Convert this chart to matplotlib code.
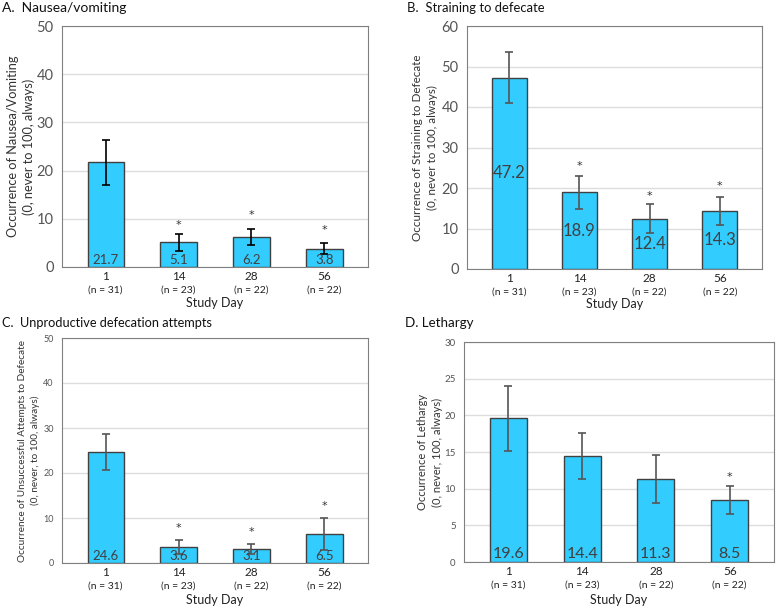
import matplotlib.pyplot as plt

plt.rcParams['font.family'] = ['Lato', 'DejaVu Sans']

days = ['1', '14', '28', '56']
n_labels = ['(n = 31)', '(n = 23)', '(n = 22)', '(n = 22)']

nausea = [21.7, 5.1, 6.2, 3.8]
nausea_hi = [26.4, 6.8, 7.9, 4.9]
nausea_lo = [17.0, 3.4, 4.6, 2.8]
nausea_star = [None, 8.8, 10.8, 7.7]

strain = [47.2, 18.9, 12.4, 14.3]
strain_hi = [53.5, 23.0, 16.0, 17.8]
strain_lo = [41.0, 14.8, 8.9, 10.8]
strain_star = [None, 25.5, 18.0, 20.4]

unprod = [24.6, 3.6, 3.1, 6.5]
unprod_hi = [28.7, 5.1, 4.2, 10.1]
unprod_lo = [20.6, 2.0, 1.9, 2.8]
unprod_star = [None, 7.8, 7.0, 12.7]

lethargy = [19.6, 14.4, 11.3, 8.5]
lethargy_hi = [24.0, 17.6, 14.6, 10.4]
lethargy_lo = [15.2, 11.3, 8.0, 6.6]
lethargy_star = [None, None, None, 11.6]

W, H = 777, 607
fig = plt.figure(figsize=(W / 100, H / 100), dpi=100)

BAR = '#33CCFF'
EDGE = '#404040'


def px_axes(left, top, right, bottom):
    return fig.add_axes([left / W, 1 - bottom / H, (right - left) / W, (bottom - top) / H])


def ftext(x, y, s, **kw):
    return fig.text(x / W, 1 - y / H, s, **kw)


def panel(ax, box, vals, hi, lo, stars, ymax, ystep, ylabel, ylab_fs, ylab_x,
          title, title_fs, title_x, title_y, err_color, label_mode, val_fs, tick_fs, xlab_y):
    left, top, right, bottom = box
    x = range(len(vals))
    ax.bar(x, vals, width=0.5, color=BAR, edgecolor=EDGE, linewidth=1.0, zorder=3)
    yerr = [[v - l for v, l in zip(vals, lo)], [h - v for v, h in zip(vals, hi)]]
    ax.errorbar(x, vals, yerr=yerr, fmt='none', ecolor=err_color, elinewidth=1.2,
                capsize=3, capthick=1.2, zorder=4)
    for i, v in enumerate(vals):
        if label_mode == 'mid':
            ypos = v / 2
            va = 'center'
        else:
            ypos = ymax * 0.006
            va = 'bottom'
        ax.text(i, ypos, f'{v:.1f}', ha='center', va=va, fontsize=val_fs, color='#404040', zorder=5)
        if stars[i] is not None:
            ax.text(i, stars[i], '*', ha='center', va='center', fontsize=8,
                    family='DejaVu Sans', color='#333333', zorder=5)
    ax.set_ylim(0, ymax)
    ax.set_xlim(-0.6, 3.6)
    ax.set_yticks(range(0, ymax + 1, ystep))
    ax.set_xticks(list(x))
    ax.set_xticklabels(days, fontsize=8.5, color='#222222')
    ax.tick_params(axis='y', labelsize=tick_fs, colors='#555555', length=0, pad=6)
    ax.tick_params(axis='x', length=0, pad=3)
    ax.grid(axis='y', color='#dddddd', linewidth=1, zorder=0)
    for s in ax.spines.values():
        s.set_color('#808080')
    # second line of tick labels: sample sizes
    for i, n in enumerate(n_labels):
        ax.annotate(n, (i, 0), xycoords=('data', 'axes fraction'), xytext=(0, -19),
                    textcoords='offset pixels', ha='center', va='top', fontsize=7.5, color='#222222')
    ftext(ylab_x, (top + bottom) / 2, ylabel, rotation=90, ha='center', va='center',
          fontsize=ylab_fs, color='#333333', multialignment='center', linespacing=1.35)
    ftext(title_x, title_y, title, fontsize=title_fs, color='#111111', va='center', ha='left')
    ftext((left + right) / 2, xlab_y, 'Study Day', ha='center', va='center',
          fontsize=9, color='#222222')


boxA = (62, 26, 368, 267)
axA = px_axes(*boxA)
panel(axA, boxA, nausea, nausea_hi, nausea_lo, nausea_star, 50, 10,
      'Occurrence of Nausea/Vomiting\n(0, never to 100, always)', 9.2, 21,
      'A.  Nausea/vomiting', 10, 2, 8, 'black', 'bottom', 9.5, 10.5, 303)

boxB = (467, 26, 762, 269)
axB = px_axes(*boxB)
panel(axB, boxB, strain, strain_hi, strain_lo, strain_star, 60, 10,
      'Occurrence of Straining to Defecate\n(0, never to 100, always)', 8.4, 425,
      'B.  Straining to defecate', 9.4, 407, 8, '#555555', 'mid', 12, 10.5, 304)

boxC = (62, 338, 368, 563)
axC = px_axes(*boxC)
panel(axC, boxC, unprod, unprod_hi, unprod_lo, unprod_star, 50, 10,
      'Occurrence of Unsuccessful Attempts to Defecate\n(0, never, to 100, always)', 7.2, 29,
      'C.  Unproductive defecation attempts', 9.2, 2, 323, '#555555', 'bottom', 9.5, 6.5, 600)

boxD = (464, 342, 774, 562)
axD = px_axes(*boxD)
panel(axD, boxD, lethargy, lethargy_hi, lethargy_lo, lethargy_star, 30, 5,
      'Occurrence of Lethargy\n(0, never, 100, always)', 8, 430,
      'D. Lethargy', 9.6, 405, 323, '#555555', 'bottom', 11.5, 7, 600)

fig.savefig('out.png', dpi=100)
